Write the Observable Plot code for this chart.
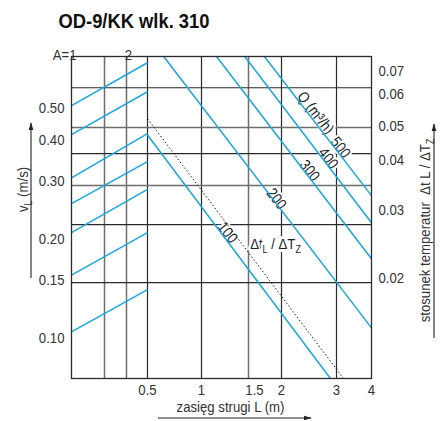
<!DOCTYPE html>
<html>
<head>
<meta charset="utf-8">
<script src="https://cdn.jsdelivr.net/npm/d3@7"></script>
<script src="https://cdn.jsdelivr.net/npm/@observablehq/plot@0.6"></script>
<style>
  html, body { margin: 0; padding: 0; background: #fff; }
  #chart { width: 446px; height: 421px; }
</style>
</head>
<body>
<div id="chart"></div>
<script>
// ---------- data ----------
const chartTitle = "OD-9/KK wlk. 310";
const xTitle = "zasięg strugi L (m)";
const yTitle = "v_L (m/s)";
const rightTitle = "stosunek temperatur  Δt L / ΔT_Z";

// x: piecewise scale; left panel (correction factor A) occupies L 0.2–0.5
const xBreaks = [0.2, 0.3, 0.4, 0.5, 1, 1.5, 2, 3, 4];
const xTicks = [0.5, 1, 2, 3, 4];
const xTickOffset = [1.5];          // label printed slightly right of its line
const xGridBlack = [0.5, 1, 2, 3];
const xGridGray = [0.3, 0.4, 1.5];
const aLabel1 = "A=1", aLabel1Pos = 0.2;
const aLabel2 = "2", aLabel2Pos = 0.4;

// y: vL (m/s), log
const yDomain = [0.075, 0.72];
const yTicksLeft = [0.10, 0.15, 0.20, 0.30, 0.40, 0.50];
const yGridBlack = [0.578, 0.364, 0.221, 0.147];
const yGridGray = [0.437, 0.291];

// right axis: temperature ratio labels and their vL-equivalent heights
const rightLabels = ["0.07", "0.06", "0.05", "0.04", "0.03", "0.02"];
const rightPos = [0.652, 0.554, 0.443, 0.347, 0.245, 0.152];

// A-correction lines (left panel): vL at A=1 edge and at L=0.5 edge
const aStartV = [0.510, 0.416, 0.307, 0.256, 0.209, 0.155, 0.104];
const aEndV = [0.689, 0.562, 0.419, 0.344, 0.283, 0.209, 0.140];

// Q lines (m3/h)
const qNames = ["100", "200", "300", "400", "500"];
const qStartL = [0.5, 0.65, 1.16, 1.46, 1.74];
const qStartV = [0.415, 0.72, 0.72, 0.72, 0.72];
const qEndL = [2.89, 4, 4, 4, 4];
const qEndV = [0.075, 0.107, 0.174, 0.224, 0.271];
const qLabelL = [1.277, 1.924, 2.51, 2.85, 3.11];
const qLabelV = [0.209, 0.265, 0.323, 0.352, 0.380];
const qUnitLabel = "Q (m³/h)";
const qUnitL = 2.62, qUnitV = 0.485;

// temperature-ratio reference line (dotted)
const ratioL = [0.5, 3.2];
const ratioV = [0.465, 0.075];
const ratioLabel = "Δt_L / ΔT_Z";
const ratioLabelL = 1.909, ratioLabelV = 0.1935;

// ---------- build ----------
const FONT = "'Liberation Sans', Arial, sans-serif";
const BLUE = "#1aa6df";
const INK = "#2a2a2a";
const FS = 15.5;

const aLines = aStartV.map((v, i) => ({x1: xBreaks[0], x2: xBreaks[3], y1: v, y2: aEndV[i]}));
const qLines = qNames.map((n, i) => ({x1: qStartL[i], y1: qStartV[i], x2: qEndL[i], y2: qEndV[i]}));
const qLabels = qNames.map((n, i) => ({L: qLabelL[i], v: qLabelV[i], t: n}))
  .concat([{L: qUnitL, v: qUnitV, t: qUnitLabel}]);
const rightTicks = rightLabels.map((t, i) => ({t, v: rightPos[i]}));

const plot = Plot.plot({
  width: 446,
  height: 421,
  marginLeft: 71,
  marginRight: 75,
  marginTop: 56,
  marginBottom: 43,
  x: {type: "linear", domain: xBreaks, range: [71, 104, 126, 147, 201, 248, 281, 336, 371]},
  y: {type: "log", domain: yDomain},
  style: {fontFamily: FONT, fontSize: FS + "px", color: "#333", background: "#fff"},
  marks: [
    Plot.ruleX(xGridGray, {stroke: "#6e6e6e", strokeWidth: 1.5}),
    Plot.ruleX(xGridBlack, {stroke: INK, strokeWidth: 1.2}),
    Plot.ruleY(yGridGray, {stroke: "#6e6e6e", strokeWidth: 1.5}),
    Plot.ruleY(yGridBlack, {stroke: INK, strokeWidth: 1.2}),
    // labels with white halo (cut the grid)
    Plot.text(qLabels, {x: "L", y: "v", text: "t", rotate: 52, fontSize: FS, fill: "#222",
      stroke: "white", strokeWidth: 5, paintOrder: "stroke"}),
    Plot.text([ratioLabel], {x: () => ratioLabelL, y: () => ratioLabelV, text: d => d, fontSize: FS, fill: "#222",
      stroke: "white", strokeWidth: 6, paintOrder: "stroke"}),
    // blue lines
    Plot.link(aLines, {x1: "x1", y1: "y1", x2: "x2", y2: "y2", stroke: BLUE, strokeWidth: 1.5}),
    Plot.link(qLines, {x1: "x1", y1: "y1", x2: "x2", y2: "y2", stroke: BLUE, strokeWidth: 1.5}),
    // dotted reference
    Plot.link([0], {x1: () => ratioL[0], y1: () => ratioV[0], x2: () => ratioL[1], y2: () => ratioV[1],
      stroke: "#111", strokeWidth: 1, strokeDasharray: "1.4,2.2"}),
    Plot.frame({stroke: INK, strokeWidth: 1.3}),
    // axes
    Plot.axisX(xTicks, {tickSize: 0, tickPadding: 5, fontSize: FS, tickFormat: d => String(d)}),
    Plot.axisX(xTickOffset, {tickSize: 0, tickPadding: 5, fontSize: FS, dx: 6, tickFormat: d => String(d)}),
    Plot.axisY(yTicksLeft, {anchor: "left", tickSize: 0, tickPadding: 7, fontSize: FS, tickFormat: d => d.toFixed(2)}),
    Plot.text(rightTicks, {y: "v", text: "t", frameAnchor: "right", textAnchor: "start", dx: 7, fontSize: FS, fill: "#333"}),
    Plot.text([aLabel1], {x: () => aLabel1Pos, text: d => d, frameAnchor: "top", textAnchor: "end", dx: 5, dy: -8, fontSize: FS, fill: "#333"}),
    Plot.text([aLabel2], {x: () => aLabel2Pos, text: d => d, frameAnchor: "top", textAnchor: "middle", dx: 2, dy: -8, fontSize: FS, fill: "#333"}),
    // titles
    Plot.text([chartTitle], {frameAnchor: "top-left", textAnchor: "start", lineAnchor: "bottom", dx: -13, dy: -29,
      fontSize: 21, fontWeight: "bold", fill: "#111"}),
    Plot.text([xTitle], {frameAnchor: "bottom", textAnchor: "middle", dx: 9, dy: 33, fontSize: FS, fill: "#333"}),
    Plot.text([yTitle], {frameAnchor: "left", textAnchor: "middle", dx: -48, dy: -28, rotate: -90, fontSize: FS, fill: "#333"}),
    Plot.text([rightTitle], {frameAnchor: "right", textAnchor: "middle", dx: 54, dy: 13, rotate: -90, fontSize: FS, fill: "#333"})
  ]
});

// ---- post: subscripts ----
d3.select(plot).selectAll("text").each(function() {
  const t = this.textContent;
  if (!t.includes("_")) return;
  const parts = t.split(/_(.)/);
  const el = d3.select(this);
  el.text(null);
  let shifted = false;
  parts.forEach((p, i) => {
    if (!p) return;
    const ts = el.append("tspan").text(p);
    if (i % 2 === 1) { ts.attr("font-size", "10.5px").attr("dy", "4"); shifted = true; }
    else if (shifted) { ts.attr("dy", "-4"); shifted = false; }
  });
});

// ---- post: axis arrows ----
const svg = d3.select(plot);
const defs = svg.append("defs");
defs.append("marker").attr("id", "ah").attr("viewBox", "0 0 10 10")
  .attr("refX", 9).attr("refY", 5).attr("markerWidth", 8).attr("markerHeight", 8)
  .attr("markerUnits", "userSpaceOnUse").attr("orient", "auto")
  .append("path").attr("d", "M0,2 L10,5 L0,8 Z").attr("fill", "#222");
const arrows = [[31, 278, 31, 123], [434, 338, 434, 124], [158, 418, 311, 418]];
const ag = svg.append("g");
arrows.forEach(([a, b, c, d]) => ag.append("line").attr("x1", a).attr("y1", b).attr("x2", c).attr("y2", d)
  .attr("stroke", "#222").attr("stroke-width", 1.1).attr("marker-end", "url(#ah)"));

document.getElementById("chart").appendChild(plot);

// ---- post: condensed look (narrow the glyphs like the original condensed face) ----
d3.select(plot).selectAll("text").each(function() {
  const w = this.getComputedTextLength();
  if (!(w > 0)) return;
  const isTitle = this.textContent === chartTitle;
  this.setAttribute("textLength", isTitle ? 151 : w * 0.85);
  this.setAttribute("lengthAdjust", "spacingAndGlyphs");
});
</script>
</body>
</html>
